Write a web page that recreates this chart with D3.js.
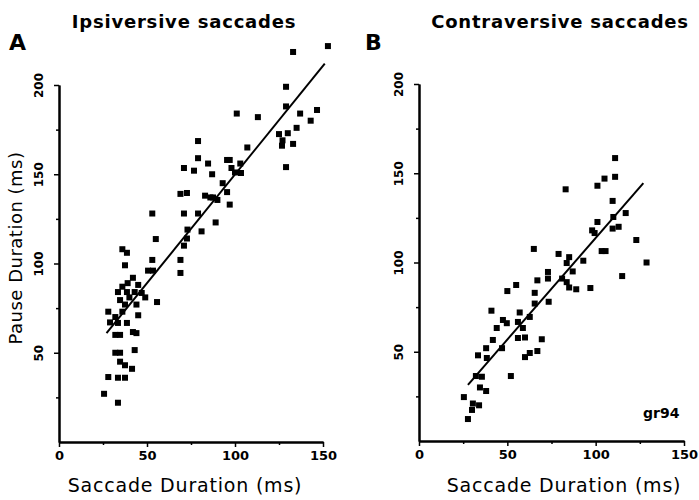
<!DOCTYPE html>
<html lang="en">
<head>
<meta charset="UTF-8">
<title>Pause vs saccade duration</title>
<script src="https://cdn.jsdelivr.net/npm/d3@7"></script>
<style>
  body { margin: 0; background: #fff; }
  text { font-family: "DejaVu Sans", sans-serif; fill: #000; }
</style>
</head>
<body>
<script>
// panel A - ipsiversive saccades (saccade duration ms, pause duration ms)
var ipsiX = [152.8, 133, 129, 129, 137, 146.6, 143, 135, 130, 125, 127, 126.7, 133, 129,
  101, 113, 107, 79, 79, 71, 76.7, 84.7, 87, 95.5, 97, 103, 98, 100, 103.4, 93, 95.5, 97,
  90, 83, 86, 87.5, 69, 72.7, 71, 79, 89, 81, 73, 72.7, 71, 55, 53, 69,
  36, 38.6, 37.5, 69, 53, 50.6, 53.4, 42, 39, 36, 45, 33.5, 38.6, 43, 47, 49, 34.7, 40,
  37.5, 44, 55.7, 36, 28, 45, 32, 29, 33.5, 38.6, 32, 34.7, 42, 44, 32, 34.7, 43, 34.7,
  37.5, 41.5, 28, 33.5, 37.5, 25.6, 33.5];
var ipsiY = [221.8, 218.5, 199, 188, 184, 186, 180, 176, 173, 172.5, 169, 166, 167, 154,
  184, 182, 165, 168.6, 159, 153.5, 152, 156, 150, 158, 158, 156, 153.5, 151, 150.7, 145, 140, 133,
  135.6, 138, 137, 137, 139, 139.5, 128, 128, 123, 118, 119, 114, 110, 113.7, 128, 102,
  108, 106, 99, 94.7, 102, 96, 96, 92, 89, 87, 88, 84, 84, 84, 83.5, 81, 79.5, 81,
  77, 77, 78.4, 73, 73, 71, 70, 67, 66.7, 66.7, 60, 60, 61.6, 61, 50, 50, 51.5, 45,
  43, 41, 36.4, 36, 36, 27, 22];

// panel B - contraversive saccades
var contraX = [111, 111, 105, 101, 83, 109.6, 117, 110, 101, 98, 99.4, 109.6, 113, 123,
  103.4, 105.6, 128.8, 115, 93, 85, 79, 83.6, 73, 73, 87, 81, 83.6, 85, 89, 97, 73.4,
  65, 67, 65.5, 65.5, 55, 50, 41, 57, 62.7, 56, 47.5, 49.7, 58.8, 44, 56, 60, 69.5,
  41.8, 47, 38, 67, 62.7, 60, 33.4, 38.4, 52, 32.2, 35.6, 34.5, 38, 25.4, 30.5, 34, 30, 27.7];
var contraY = [158.5, 148, 147, 143, 141, 134.5, 127.7, 125.5, 122.7, 118, 116.5, 119, 120, 112.6,
  106.4, 106.4, 100, 92.4, 101, 103, 104.8, 99.7, 94.7, 91, 95, 91, 89, 86, 85, 85.7, 78,
  107.6, 90, 83, 77, 87.4, 84, 73, 72, 69.5, 66.7, 67.8, 66, 63.3, 63.3, 57.7, 58, 57,
  56.6, 52, 52, 50.4, 49.3, 47, 48, 46.5, 36.4, 36.4, 36, 30, 28, 24.6, 21, 20, 17.4, 12.3];

// regression lines, endpoints in data units
var ipsiFit = [[27, 61], [151, 212]];
var contraFit = [[27.7, 31.4], [127, 144.5]];

var xTicks = [0, 50, 100, 150];
var yTicks = [50, 100, 150, 200];

var width = 699, height = 500;
var svg = d3.select("body").append("svg")
  .attr("width", width)
  .attr("height", height);

function drawPanel(p) {
  var x = d3.scaleLinear().domain([0, 150]).range([p.left, p.right]);
  var y = d3.scaleLinear().domain([0, 200]).range([p.bottom, p.top]);
  var g = svg.append("g");

  // axes
  var xAxis = d3.axisBottom(x).tickValues(xTicks).tickSize(5).tickSizeOuter(0).tickFormat(d3.format("d"));
  var xMinor = d3.axisBottom(x).tickValues([25, 75, 125]).tickSize(3).tickSizeOuter(0).tickFormat("");
  var yAxis = d3.axisLeft(y).tickValues(yTicks).tickSize(5).tickSizeOuter(0).tickFormat("");
  var yMinor = d3.axisLeft(y).tickValues([25, 75, 125, 175]).tickSize(3).tickSizeOuter(0).tickFormat("");

  var gx = g.append("g").attr("transform", "translate(0," + p.bottom + ")").call(xAxis);
  g.append("g").attr("transform", "translate(0," + p.bottom + ")").call(xMinor);
  var gy = g.append("g").attr("transform", "translate(" + p.left + ",0)").call(yAxis);
  g.append("g").attr("transform", "translate(" + p.left + ",0)").call(yMinor);

  g.selectAll(".domain").attr("stroke", "#000").attr("stroke-width", 2);
  g.selectAll(".tick line").attr("stroke", "#000").attr("stroke-width", 1.5);
  gx.selectAll(".tick text")
    .attr("y", 9)
    .style("font-size", "13px")
    .style("font-weight", "bold")
    .style("font-family", "DejaVu Sans, sans-serif");

  // rotated y tick labels
  gy.selectAll(".tick").append("text")
    .attr("transform", "translate(-16,0) rotate(-90)")
    .attr("text-anchor", "middle")
    .attr("fill", "#000")
    .style("font-size", "12px")
    .style("font-weight", "bold")
    .style("font-family", "DejaVu Sans, sans-serif")
    .text(function (d) { return d; });

  // points
  var pts = p.xs.map(function (v, i) { return [v, p.ys[i]]; });
  g.selectAll("rect.pt")
    .data(pts)
    .enter().append("rect")
    .attr("class", "pt")
    .attr("x", function (d) { return x(d[0]) - 3; })
    .attr("y", function (d) { return y(d[1]) - 3; })
    .attr("width", 6)
    .attr("height", 6)
    .attr("fill", "#000");

  // fit line
  g.append("path")
    .datum(p.fit)
    .attr("fill", "none")
    .attr("stroke", "#000")
    .attr("stroke-width", 2)
    .attr("d", d3.line().x(function (d) { return x(d[0]); }).y(function (d) { return y(d[1]); }));

  // titles and labels
  g.append("text")
    .attr("x", p.titleX).attr("y", 28)
    .attr("text-anchor", "middle")
    .style("font-size", "18px").style("font-weight", "bold")
    .style("letter-spacing", "0.8px")
    .text(p.title);
  g.append("text")
    .attr("x", p.letterX).attr("y", 50)
    .style("font-size", "22px").style("font-weight", "bold")
    .text(p.letter);
  g.append("text")
    .attr("x", p.labelX).attr("y", 492)
    .attr("text-anchor", "middle")
    .style("font-size", "19px")
    .style("letter-spacing", "0.8px")
    .text("Saccade Duration (ms)");
}

drawPanel({
  left: 59, right: 323, top: 85, bottom: 442,
  xs: ipsiX, ys: ipsiY, fit: ipsiFit,
  title: "Ipsiversive saccades", titleX: 184, labelX: 185,
  letter: "A", letterX: 9
});

drawPanel({
  left: 419, right: 684, top: 84, bottom: 441,
  xs: contraX, ys: contraY, fit: contraFit,
  title: "Contraversive saccades", titleX: 560, labelX: 564,
  letter: "B", letterX: 365
});

svg.append("text")
  .attr("transform", "translate(22,248) rotate(-90)")
  .attr("text-anchor", "middle")
  .style("font-size", "18px")
  .style("letter-spacing", "0.5px")
  .text("Pause Duration (ms)");

svg.append("text")
  .attr("x", 643).attr("y", 418)
  .style("font-size", "14px").style("font-weight", "bold")
  .text("gr94");
</script>
</body>
</html>
